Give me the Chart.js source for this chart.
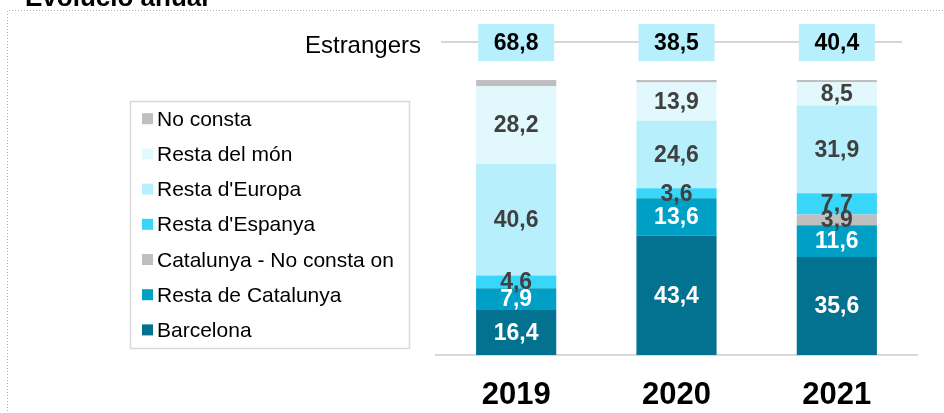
<!DOCTYPE html>
<html>
<head>
<meta charset="utf-8">
<script src="https://cdn.jsdelivr.net/npm/chart.js@4.4.1/dist/chart.umd.min.js"></script>
<style>
  html, body { margin: 0; padding: 0; background: #fff; overflow: hidden; }
  #wrap { width: 944px; height: 413px; position: relative; }
</style>
</head>
<body>
<div id="wrap"><canvas id="chart" width="944" height="413"></canvas></div>
<script>
/* global Chart */

const YEARS = ['2019', '2020', '2021'];
const ESTRANGERS = [68.8, 38.5, 40.4];

// stacked shares, bottom to top
const BARCELONA       = [16.4, 43.4, 35.6];
const RESTA_CATALUNYA = [7.9, 13.6, 11.6];
const CAT_NO_CONSTA   = [0, 0, 3.9];
const RESTA_ESPANYA   = [4.6, 3.6, 7.7];
const RESTA_EUROPA    = [40.6, 24.6, 31.9];
const RESTA_MON       = [28.2, 13.9, 8.5];
const NO_CONSTA       = [2.3, 0.9, 0.8];

const FONT = "'Liberation Sans', Arial, sans-serif";
const DARK = '#404040';

const fmt = v => v.toFixed(1).replace('.', ',');

function series(label, data, color, labelColor) {
  return { label, data, backgroundColor: color, borderWidth: 0, labelColor };
}

const datasets = [
  series('Barcelona', BARCELONA, '#037190', '#ffffff'),
  series('Resta de Catalunya', RESTA_CATALUNYA, '#00a0c6', '#ffffff'),
  series('Catalunya - No consta on', CAT_NO_CONSTA, '#bfbfbf', DARK),
  series("Resta d'Espanya", RESTA_ESPANYA, '#38d6f9', DARK),
  series("Resta d'Europa", RESTA_EUROPA, '#b7effc', DARK),
  series('Resta del món', RESTA_MON, '#e1f8fd', DARK),
  series('No consta', NO_CONSTA, '#bfbfbf', null),
];

/* Segment values, "Estrangers" row, legend box, frame and title */
const overlay = {
  id: 'overlay',
  afterDatasetsDraw(chart) {
    const ctx = chart.ctx;
    ctx.save();
    ctx.font = `bold 23px ${FONT}`;
    ctx.textAlign = 'center';
    ctx.textBaseline = 'middle';
    chart.data.datasets.forEach((ds, di) => {
      if (!ds.labelColor) return;
      chart.getDatasetMeta(di).data.forEach((bar, i) => {
        const v = ds.data[i];
        if (!v) return;
        ctx.fillStyle = ds.labelColor;
        ctx.fillText(fmt(v), bar.x, (bar.y + bar.base) / 2 + 1);
      });
    });
    ctx.restore();
  },
  afterDraw(chart) {
    const ctx = chart.ctx;
    const x = chart.scales.x;
    ctx.save();

    /* dotted frame */
    ctx.strokeStyle = '#b0b0b0';
    ctx.lineWidth = 1;
    ctx.setLineDash([1, 2]);
    ctx.beginPath();
    ctx.moveTo(7.5, 420);
    ctx.lineTo(7.5, 10.5);
    ctx.lineTo(944, 10.5);
    ctx.stroke();
    ctx.setLineDash([]);

    /* title, clipped at the top */
    ctx.fillStyle = '#000';
    ctx.font = `bold 26px ${FONT}`;
    ctx.textAlign = 'left';
    ctx.textBaseline = 'alphabetic';
    ctx.fillText('Evolució anual', 25, 6);

    /* Estrangers row */
    ctx.strokeStyle = '#c8c8c8';
    ctx.lineWidth = 1.5;
    ctx.beginPath();
    ctx.moveTo(441, 42);
    ctx.lineTo(902, 42);
    ctx.stroke();

    ctx.font = `24px ${FONT}`;
    ctx.textAlign = 'right';
    ctx.fillText('Estrangers', 421, 53);

    ctx.font = `bold 23px ${FONT}`;
    ctx.textAlign = 'center';
    ctx.textBaseline = 'middle';
    ESTRANGERS.forEach((v, i) => {
      const cx = x.getPixelForValue(i);
      ctx.fillStyle = '#b7effc';
      ctx.fillRect(cx - 38, 24, 76, 37);
      ctx.fillStyle = '#000';
      ctx.fillText(fmt(v), cx, 43.5);
    });

    /* legend box */
    ctx.strokeStyle = '#d9d9d9';
    ctx.lineWidth = 1.5;
    ctx.strokeRect(130.5, 101.5, 279, 247);
    ctx.font = `21px ${FONT}`;
    ctx.textAlign = 'left';
    ctx.textBaseline = 'alphabetic';
    const items = chart.data.datasets.slice().reverse();
    items.forEach((ds, i) => {
      const base = 125.7 + i * 35.2;
      ctx.fillStyle = ds.backgroundColor;
      ctx.fillRect(142, base - 12.5, 11, 11);
      ctx.fillStyle = '#000';
      ctx.fillText(ds.label, 157, base);
    });

    ctx.restore();
  },
};

new Chart(document.getElementById('chart'), {
  type: 'bar',
  data: { labels: YEARS, datasets },
  options: {
    responsive: false,
    animation: false,
    events: [],
    layout: { padding: { left: 436, right: 27, top: 80, bottom: 2 } },
    datasets: { bar: { barPercentage: 1, categoryPercentage: 0.5 } },
    plugins: { legend: { display: false }, tooltip: { enabled: false } },
    scales: {
      x: {
        stacked: true,
        grid: { display: false, drawTicks: false },
        border: { display: true, color: '#d9d9d9', width: 2 },
        ticks: { color: '#000', padding: 22, font: { family: FONT, size: 31, weight: 'bold' } },
        afterFit(scale) { scale.height = 56; },
      },
      y: {
        stacked: true,
        display: false,
        min: 0,
        max: 100,
      },
    },
  },
  plugins: [overlay],
});
</script>
</body>
</html>
